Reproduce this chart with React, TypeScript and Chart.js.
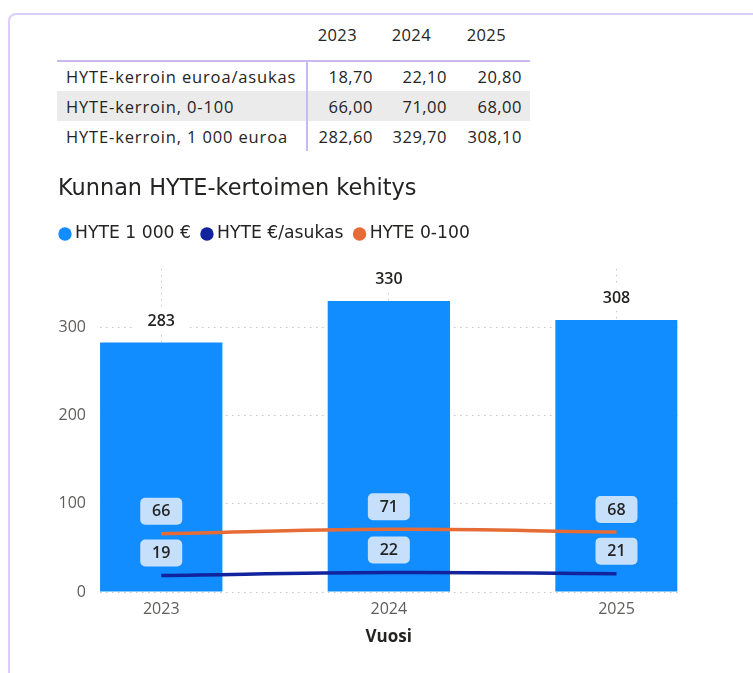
import React, { useEffect, useRef } from 'react';
import { Chart, registerables } from 'chart.js';

Chart.register(...registerables);

// ---- data ----
const years = ['2023', '2024', '2025'];
const tableRowLabels = ['HYTE-kerroin euroa/asukas', 'HYTE-kerroin, 0-100', 'HYTE-kerroin, 1 000 euroa'];
const euroaPerAsukas = [18.7, 22.1, 20.8];
const kerroin0to100 = [66, 71, 68];
const kerroin1000 = [282.6, 329.7, 308.1];
const seriesNames = ['HYTE 1 000 €', 'HYTE €/asukas', 'HYTE 0-100'];
const yTickValues = [0, 100, 200, 300];
const yMax = 366;
const chartTitle = 'Kunnan HYTE-kertoimen kehitys';
const xAxisTitle = 'Vuosi';

// ---- styles ----
const seriesColors = ['#118DFF', '#12239E', '#E66C37'];
const textDark = '#252423';
const tickGrey = '#605E5C';
const gridGrey = '#C8C6C4';
const tableLine = '#CAB8F0';

const fmt = (v: number) => v.toFixed(2).replace('.', ',');

const valueLabelPlugin = {
  id: 'valueLabels',
  afterDatasetsDraw(chart: any) {
    const ctx = chart.ctx;
    ctx.save();
    ctx.font = '600 16px "Open Sans"';
    ctx.textAlign = 'center';
    ctx.textBaseline = 'middle';
    chart.data.datasets.forEach((ds: any, di: number) => {
      const meta = chart.getDatasetMeta(di);
      meta.data.forEach((el: any, i: number) => {
        const text = String(Math.round(ds.data[i]));
        const w = ctx.measureText(text).width;
        if (ds.type === 'bar') {
          const cx = el.x;
          const cy = el.y - 21.5;
          ctx.fillStyle = '#FFFFFF';
          ctx.fillRect(cx - w / 2 - 14, cy - 12, w + 28, 24);
          ctx.fillStyle = textDark;
          ctx.fillText(text, cx, cy);
        } else {
          const cx = el.x;
          const cy = el.y - 22.5;
          const bw = Math.max(42, w + 22);
          ctx.fillStyle = '#C6DFFB';
          ctx.beginPath();
          ctx.roundRect(cx - bw / 2, cy - 13.5, bw, 27, 5);
          ctx.fill();
          ctx.fillStyle = textDark;
          ctx.fillText(text, cx, cy + 0.5);
        }
      });
    });
    ctx.restore();
  },
};

const shiftTitlePlugin = {
  id: 'shiftTitle',
  afterLayout(chart: any) {
    const t = chart.titleBlock;
    if (t) {
      t.left += 9;
      t.right += 9;
    }
  },
};

function HyteChart() {
  const ref = useRef<HTMLCanvasElement | null>(null);
  useEffect(() => {
    if (!ref.current) return;
    const chart = new Chart(ref.current, {
      type: 'bar',
      data: {
        labels: years,
        datasets: [
          {
            type: 'bar',
            label: seriesNames[0],
            data: kerroin1000,
            backgroundColor: seriesColors[0],
            barPercentage: 0.5375,
            categoryPercentage: 1,
            order: 3,
          },
          {
            type: 'line',
            label: seriesNames[1],
            data: euroaPerAsukas,
            borderColor: seriesColors[1],
            backgroundColor: seriesColors[1],
            borderWidth: 3.5,
            pointRadius: 0,
            tension: 0.4,
            order: 1,
          },
          {
            type: 'line',
            label: seriesNames[2],
            data: kerroin0to100,
            borderColor: seriesColors[2],
            backgroundColor: seriesColors[2],
            borderWidth: 3.5,
            pointRadius: 0,
            tension: 0.4,
            order: 2,
          },
        ] as any,
      },
      options: {
        responsive: false,
        animation: false,
        devicePixelRatio: 1,
        layout: { padding: { left: 49, right: 75.5, top: 0, bottom: 25.4 } },
        plugins: {
          tooltip: { enabled: false },
          title: {
            display: true,
            text: chartTitle,
            align: 'start',
            color: textDark,
            font: { family: 'DejaVu Sans', size: 22.4, weight: 'normal' },
            padding: { top: 16, bottom: 8 },
          },
          legend: {
            display: true,
            position: 'top',
            align: 'start',
            labels: {
              usePointStyle: true,
              pointStyle: 'circle',
              boxWidth: 3,
              boxHeight: 9.5,
              padding: 14.5,
              color: textDark,
              font: { family: 'DejaVu Sans', size: 17.2 },
              generateLabels: (c: any) => {
                const items = Chart.defaults.plugins.legend.labels.generateLabels(c);
                return items
                  .map((it: any) => ({
                    ...it,
                    lineWidth: 0,
                    pointStyle: 'circle',
                    fillStyle: seriesColors[it.datasetIndex],
                    strokeStyle: seriesColors[it.datasetIndex],
                    fontColor: textDark,
                  }))
                  .sort((a: any, b: any) => a.datasetIndex - b.datasetIndex);
              },
            },
          },
        },
        scales: {
          x: {
            type: 'linear',
            offset: false,
            min: 2022.731,
            max: 2025.268,
            afterBuildTicks: (s: any) => {
              s.ticks = years.map((y) => ({ value: Number(y) }));
            },
            afterFit: (s: any) => {
              s.height = 55.6;
            },
            ticks: {
              autoSkip: false,
              maxRotation: 0,
              padding: 8,
              color: tickGrey,
              font: { family: 'Open Sans', size: 16 },
              callback: (v: any) => String(v),
            },
            grid: { offset: false, color: gridGrey, lineWidth: 1, drawTicks: false },
            border: { display: false, dash: [1.5, 4.5] },
            title: {
              display: true,
              text: xAxisTitle,
              color: textDark,
              font: { family: 'Open Sans', size: 17, weight: 'bold' },
              padding: { top: 7.4, bottom: 0.6 },
            },
          },
          xTop: {
            type: 'linear',
            position: 'top',
            display: true,
            ticks: { display: false },
            grid: { display: false },
            border: { display: false },
            afterFit: (s: any) => {
              s.height = 16.3;
            },
          },
          y: {
            type: 'linear',
            min: 0,
            max: yMax,
            afterBuildTicks: (s: any) => {
              s.ticks = yTickValues.map((v) => ({ value: v }));
            },
            ticks: {
              padding: 14,
              color: tickGrey,
              font: { family: 'Open Sans', size: 16 },
              callback: (v: any) => String(v),
            },
            grid: { color: gridGrey, lineWidth: 1, drawTicks: false },
            border: { display: false, dash: [1.5, 4.5] },
            afterFit: (s: any) => {
              s.width = 51;
            },
          },
        },
      } as any,
      plugins: [valueLabelPlugin, shiftTitlePlugin],
    });
    return () => chart.destroy();
  }, []);
  return <canvas ref={ref} width={753} height={513} style={{ display: 'block', width: 753, height: 513 }} />;
}

function DataTable() {
  const rows = [euroaPerAsukas, kerroin0to100, kerroin1000];
  const cellBase: React.CSSProperties = { padding: 0, whiteSpace: 'nowrap' };
  return (
    <table
      style={{
        borderCollapse: 'collapse',
        tableLayout: 'fixed',
        width: 473,
        font: '16.5px "Open Sans"',
        color: textDark,
      }}
    >
      <colgroup>
        <col style={{ width: 250 }} />
        <col style={{ width: 74 }} />
        <col style={{ width: 74 }} />
        <col style={{ width: 75 }} />
      </colgroup>
      <thead>
        <tr style={{ height: 39 }}>
          <th style={{ ...cellBase, borderBottom: `2px solid ${tableLine}` }} />
          {years.map((y) => (
            <th
              key={y}
              style={{
                ...cellBase,
                fontWeight: 'normal',
                textAlign: 'right',
                paddingRight: 24,
                verticalAlign: 'top',
                lineHeight: '26px',
                letterSpacing: 0.4,
                borderBottom: `2px solid ${tableLine}`,
              }}
            >
              {y}
            </th>
          ))}
        </tr>
      </thead>
      <tbody>
        {tableRowLabels.map((label, ri) => (
          <tr key={label} style={{ height: 30, background: ri === 1 ? '#EBEBEB' : 'transparent' }}>
            <td
              style={{
                ...cellBase,
                paddingLeft: 9,
                letterSpacing: 0.85,
                borderRight: `2px solid ${tableLine}`,
                verticalAlign: 'middle',
              }}
            >
              {label}
            </td>
            {rows[ri].map((v, ci) => (
              <td
                key={ci}
                style={{ ...cellBase, textAlign: 'right', paddingRight: 8, letterSpacing: 0.5, verticalAlign: 'middle' }}
              >
                {fmt(v)}
              </td>
            ))}
          </tr>
        ))}
      </tbody>
    </table>
  );
}

export default function App() {
  return (
    <div style={{ position: 'absolute', left: 0, top: 0, width: 753, height: 673, overflow: 'hidden', background: '#FFFFFF' }}>
      <div
        style={{
          position: 'absolute',
          left: 8,
          top: 13,
          width: 900,
          height: 800,
          border: '2px solid #DCCEF8',
          borderRadius: 8,
          boxSizing: 'border-box',
        }}
      />
      <div style={{ position: 'absolute', left: 57, top: 22 }}>
        <DataTable />
      </div>
      <div style={{ position: 'absolute', left: 0, top: 160 }}>
        <HyteChart />
      </div>
    </div>
  );
}
